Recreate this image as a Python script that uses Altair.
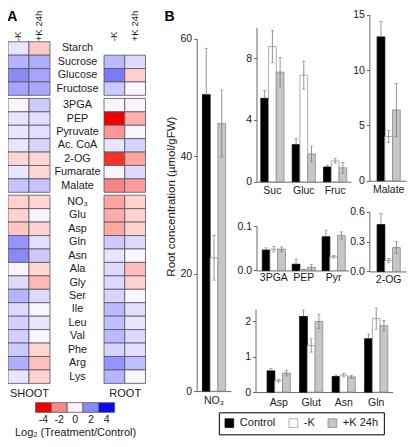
import altair as alt
import pandas as pd

FONT = "Liberation Sans"
W, H = 399, 431
S = 0.965


def X(v):
    return round((v - 1.5) * S, 2)


def Y(v):
    return round((v - 1.0) * S, 2)


# ---------------- Panel A data (log2 treatment/control) ----------------
group1 = ["Starch", "Sucrose", "Glucose", "Fructose"]
group2 = ["3PGA", "PEP", "Pyruvate", "Ac. CoA", "2-OG", "Fumarate", "Malate"]
group3 = ["NO₃", "Glu", "Asp", "Gln", "Asn", "Ala", "Gly", "Ser", "Ile", "Leu",
          "Val", "Phe", "Arg", "Lys"]
groups = [group1, group2, group3]
hm_columns = ["-K", "+K 24h"]

shoot_minusK = [0.3, 1.2, 2.0, 1.5,
                0.0, 0.3, 0.3, 0.3, -0.2, 0.3, 0.9,
                -0.3, -0.3, -0.6, 1.8, 2.0, 0.0, 0.5, 1.2, 0.5, 0.7, 0.7, 0.8, 1.3, 0.3]
shoot_plusK = [-0.5, 1.3, 1.5, 1.4,
               0.8, 0.4, 0.4, 0.6, -0.2, -0.2, 0.9,
               -0.2, 0.0, -0.3, 0.4, 0.8, -0.2, -0.9, 0.5, 0.0, 0.3, 0.0, -0.2, -0.7, -0.3]
root_minusK = [None, 1.1, 2.3, 0.8,
               0.0, -4.0, -1.7, 0.3, -3.6, 0.0, -2.1,
               -1.4, -1.2, -1.3, 0.8, 0.3, 0.5, 0.5, 0.6, 1.1, 1.0, 1.1, 0.6, 1.8, 1.2]
root_plusK = [None, 0.5, -0.4, 0.0,
              0.0, -1.1, 0.0, 0.6, -1.4, 0.5, -1.6,
              -0.3, -0.3, -0.3, 0.5, 0.0, -0.8, -0.3, 0.0, 0.4, 0.3, 0.5, 0.4, 1.0, 0.0]

legend_values = [-4, -2, 0, 2, 4]
legend_colors = ["#f00000", "#f58a8a", "#ffffff", "#8a8af5", "#0a0af0"]

# ---------------- Panel B data (root concentration, µmol/gFW) ----------------
TREAT = ["Control", "-K", "+K 24h"]

no3_cats = ["NO₃"]
no3_ctrl, no3_ctrl_e = [50.5], [7.9]
no3_mk, no3_mk_e = [22.7], [3.8]
no3_pk, no3_pk_e = [45.6], [5.7]

sug_cats = ["Suc", "Gluc", "Fruc"]
sug_ctrl, sug_ctrl_e = [5.4, 2.4, 0.95], [0.5, 0.4, 0.1]
sug_mk, sug_mk_e = [8.75, 6.9, 1.35], [1.05, 0.9, 0.15]
sug_pk, sug_pk_e = [7.1, 1.8, 0.9], [0.95, 0.5, 0.35]

mal_cats = ["Malate"]
mal_ctrl, mal_ctrl_e = [13.0], [1.4]
mal_mk, mal_mk_e = [4.0], [0.55]
mal_pk, mal_pk_e = [6.4], [2.4]

gly_cats = ["3PGA", "PEP", "Pyr"]
gly_ctrl, gly_ctrl_e = [0.046, 0.014, 0.076], [0.005, 0.012, 0.015]
gly_mk, gly_mk_e = [0.048, 0.002, 0.031], [0.006, 0.001, 0.003]
gly_pk, gly_pk_e = [0.048, 0.007, 0.079], [0.005, 0.007, 0.008]

og_cats = ["2-OG"]
og_ctrl, og_ctrl_e = [0.47], [0.11]
og_mk, og_mk_e = [0.11], [0.02]
og_pk, og_pk_e = [0.24], [0.06]

aa_cats = ["Asp", "Glut", "Asn", "Gln"]
aa_ctrl, aa_ctrl_e = [0.60, 2.14, 0.44, 1.51], [0.07, 0.18, 0.04, 0.13]
aa_mk, aa_mk_e = [0.32, 1.32, 0.48, 2.08], [0.04, 0.19, 0.05, 0.30]
aa_pk, aa_pk_e = [0.54, 2.00, 0.43, 1.88], [0.08, 0.20, 0.04, 0.15]

# ---------------- styles / scales ----------------
COLOR = alt.Scale(domain=legend_values, range=legend_colors, clamp=True)
FILL = alt.Scale(domain=TREAT, range=["#000000", "#ffffff", "#c6c6c6"])
STROKE = alt.Scale(domain=TREAT, range=["#000000", "#9a9a9a", "#8a8a8a"])
ERR = "#7a7a7a"
CELL_STROKE = "#555555"

LEG = alt.Legend(orient="none", legendX=X(220), legendY=Y(420), direction="horizontal",
                 title=None, symbolType="square", symbolSize=75, symbolStrokeColor="black",
                 symbolStrokeWidth=0.8, strokeColor="black", padding=5, labelFontSize=11,
                 columnPadding=11, labelOffset=5)

# ---------------- layout (reference pixels) ----------------
HM_ROWS = [(36, 91.5), (94.7, 192), (195, 390)]
HM_COLS = {"SHOOT": (1.5, 45), "ROOT": (101, 144)}
LABEL_CENTER = 73


def heat_layer(tissue, gi, minus_all, plus_all):
    start = sum(len(g) for g in groups[:gi])
    rows = groups[gi]
    minus = minus_all[start:start + len(rows)]
    plus = plus_all[start:start + len(rows)]
    df = pd.DataFrame({
        "met": rows + rows,
        "col": [hm_columns[0]] * len(rows) + [hm_columns[1]] * len(rows),
        "v": minus + plus,
    }).dropna()
    c0, c1 = HM_COLS[tissue]
    r0, r1 = HM_ROWS[gi]
    if gi == 0:
        xaxis = alt.Axis(orient="top", offset=-Y(36), labelAngle=270, labelAlign="left",
                         labelBaseline="middle", ticks=False, tickSize=0, domain=False,
                         labelPadding=1, title=None, labelFontSize=9.6)
    elif gi == 2:
        xaxis = alt.Axis(orient="bottom", offset=round(Y(390) - H, 2), labels=False,
                         ticks=False, tickSize=0, domain=False, title=tissue,
                         titlePadding=4, titleFontSize=11)
    else:
        xaxis = None
    if tissue == "ROOT":
        yaxis = alt.Axis(orient="left", offset=-X(c0), ticks=False, tickSize=0, domain=False,
                         labelAlign="center", labelBaseline="middle",
                         labelPadding=round((c0 - LABEL_CENTER) * S, 2), title=None,
                         labelFontSize=10.8)
    else:
        yaxis = None
    return alt.Chart(df).mark_rect(stroke=CELL_STROKE, strokeWidth=0.8).encode(
        x=alt.X("col:N", scale=alt.Scale(domain=hm_columns, range=[X(c0), X(c1)],
                                          paddingInner=0, paddingOuter=0, round=False),
                axis=xaxis),
        y=alt.Y("met:N", scale=alt.Scale(domain=rows, range=[Y(r0), Y(r1)],
                                          paddingInner=0, paddingOuter=0, round=False),
                axis=yaxis),
        color=alt.Color("v:Q", scale=COLOR, legend=None),
    )


def band_scale(cats, axis_x, c1, step):
    n = len(cats)
    cn = c1 + (n - 1) * step
    a = X(axis_x)
    b = X(cn + step / 2)
    st = step * S
    bw = 24 * S
    p = 1 - bw / st
    L = b - a
    o = (L / st - n + p) / 2
    slack = L - st * (n - p)
    align = (X(c1 - 12) - a) / slack if slack > 0 else 0.5
    align = min(max(align, 0), 1)
    return alt.Scale(domain=cats, range=[a, b], paddingInner=p, paddingOuter=o,
                     align=align, round=False)


def panel(cats, c, ce, k, ke, p, pe, ydom, ypx, ticks, fmt, axis_x, c1, step,
          title=None, title_y=None, lab_pad=4, legend=False):
    df = pd.DataFrame({
        "cat": cats * 3,
        "treatment": [t for t in TREAT for _ in cats],
        "value": c + k + p,
        "err": ce + ke + pe,
    })
    xoff = alt.XOffset("treatment:N", scale=alt.Scale(domain=TREAT, paddingInner=0,
                                                       paddingOuter=0, round=False))

    def ys():
        return alt.Scale(domain=ydom, range=[Y(ypx[0]), Y(ypx[1])], nice=False)

    base = alt.Chart(df).transform_calculate(
        hi="datum.value + datum.err",
        lo="datum.treatment == 'Control' ? datum.value : datum.value - datum.err",
    )
    xaxis = alt.Axis(orient="bottom", offset=round(Y(ypx[0]) - H, 2), ticks=False, tickSize=0,
                     labelPadding=lab_pad, title=None, labelAngle=0, domain=True)
    ykw = dict(orient="left", offset=-X(axis_x), values=ticks, format=fmt, tickSize=3,
               labelPadding=2)
    if title:
        ykw.update(title=title, titlePadding=3, titleFontSize=11.5, titleY=Y(title_y))
    else:
        ykw.update(title=None)
    bars = base.mark_bar(strokeWidth=0.8).encode(
        x=alt.X("cat:N", scale=band_scale(cats, axis_x, c1, step), axis=xaxis),
        xOffset=xoff,
        y=alt.Y("value:Q", scale=ys(), axis=alt.Axis(**ykw)),
        fill=alt.Fill("treatment:N", scale=FILL, legend=LEG if legend else None),
        stroke=alt.Stroke("treatment:N", scale=STROKE, legend=None),
    )

    def xn():
        return alt.X("cat:N", scale=band_scale(cats, axis_x, c1, step), axis=None)

    rules = base.mark_rule(color=ERR, strokeWidth=0.8).encode(
        x=xn(), xOffset=xoff, y=alt.Y("lo:Q", scale=ys(), axis=None), y2="hi:Q")
    cap_hi = base.mark_tick(color=ERR, thickness=0.8, size=3.5).encode(
        x=xn(), xOffset=xoff, y=alt.Y("hi:Q", scale=ys(), axis=None))
    cap_lo = base.transform_filter("datum.treatment != 'Control'").mark_tick(
        color=ERR, thickness=0.8, size=3.5).encode(
        x=xn(), xOffset=xoff, y=alt.Y("lo:Q", scale=ys(), axis=None))
    return [bars, rules, cap_hi, cap_lo]


layers = []
for gi in range(3):
    layers.append(heat_layer("SHOOT", gi, shoot_minusK, shoot_plusK))
    layers.append(heat_layer("ROOT", gi, root_minusK, root_plusK))

# colour key
key_df = pd.DataFrame({"v": legend_values, "k": ["key"] * len(legend_values)})
layers.append(alt.Chart(key_df).mark_rect(stroke=CELL_STROKE, strokeWidth=0.8).encode(
    x=alt.X("v:O", scale=alt.Scale(domain=legend_values, range=[X(30), X(112)],
                                    paddingInner=0, paddingOuter=0, round=False),
            axis=alt.Axis(orient="bottom", offset=round(Y(420) - H, 2), ticks=False, tickSize=0,
                          domain=False, labelPadding=2, labelAngle=0,
                          title="Log₂ (Treatment/Control)", titlePadding=2,
                          titleFontSize=11)),
    y=alt.Y("k:N", scale=alt.Scale(range=[Y(410), Y(420)], paddingInner=0, paddingOuter=0,
                                    round=False), axis=None),
    color=alt.Color("v:Q", scale=COLOR, legend=None),
))

layers += panel(no3_cats, no3_ctrl, no3_ctrl_e, no3_mk, no3_mk_e, no3_pk, no3_pk_e,
                [0, 60], (398, 33), [0, 20, 40, 60], "d", 197, 215, 35,
                title="Root concentration (µmol/gFW)", title_y=196, lab_pad=4,
                legend=True)
layers += panel(sug_cats, sug_ctrl, sug_ctrl_e, sug_mk, sug_mk_e, sug_pk, sug_pk_e,
                [0, 10], (181, 21), [0, 4, 8], "d", 259, 275.5, 32.5, lab_pad=4)
layers += panel(mal_cats, mal_ctrl, mal_ctrl_e, mal_mk, mal_mk_e, mal_pk, mal_pk_e,
                [0, 15], (180, 8), [0, 5, 10, 15], "d", 376, 396, 36, lab_pad=4)
layers += panel(gly_cats, gly_ctrl, gly_ctrl_e, gly_mk, gly_mk_e, gly_pk, gly_pk_e,
                [0, 0.1], (273, 227), [0, 0.1], ".1f", 259, 277, 31, lab_pad=2)
layers += panel(og_cats, og_ctrl, og_ctrl_e, og_mk, og_mk_e, og_pk, og_pk_e,
                [0, 0.6], (274, 212), [0, 0.3, 0.6], ".1f", 376, 396, 36, lab_pad=3)
layers += panel(aa_cats, aa_ctrl, aa_ctrl_e, aa_mk, aa_mk_e, aa_pk, aa_pk_e,
                [0, 2.35], (399, 313), [0, 1, 2], "d", 258, 282, 33.7, lab_pad=5)

# panel letters
for letter, lx, ly in [("A", 6, 10.5), ("B", 169, 10.5)]:
    layers.append(alt.Chart(pd.DataFrame({"t": [letter]})).mark_text(
        fontSize=14, fontWeight="bold", font=FONT, align="center", baseline="middle"
    ).encode(text="t:N", x=alt.value(X(lx)), y=alt.value(Y(ly))))

chart = alt.layer(*layers).resolve_scale(
    x="independent", y="independent", xOffset="independent"
).properties(
    width=W, height=H, autosize=alt.AutoSizeParams(type="none"), padding=0
).configure(font=FONT).configure_axis(
    labelFont=FONT, titleFont=FONT, labelFontSize=10.5, labelColor="#1a1a1a",
    titleColor="#1a1a1a", titleFontWeight="normal", domainColor="#444444",
    tickColor="#444444", domainWidth=0.8, tickWidth=0.8, grid=False, labelOverlap=False
).configure_view(stroke=None).configure_legend(labelFont=FONT, labelColor="#1a1a1a")

chart.save("out.html", embed_options={"renderer": "svg", "actions": False})
